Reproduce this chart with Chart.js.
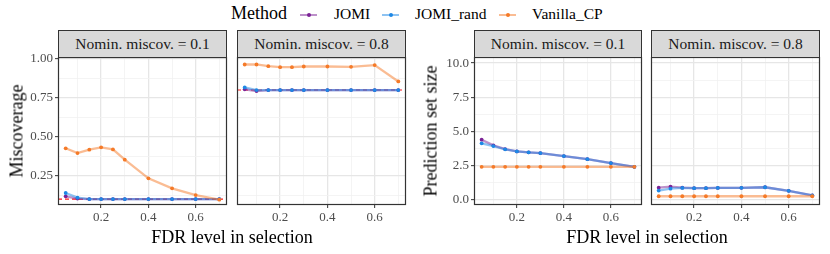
<!DOCTYPE html>
<html><head><meta charset="utf-8">
<script src="https://cdn.jsdelivr.net/npm/chart.js@4/dist/chart.umd.min.js"></script>
<style>
body{margin:0;background:#fff;}
#wrap{position:relative;width:830px;height:254px;overflow:hidden;font-family:"Liberation Serif","DejaVu Serif",serif;background:#fff;}
.strip{position:absolute;top:30px;height:28px;box-sizing:border-box;border:1px solid #333;background:#D9D9D9;color:#1a1a1a;font-size:15.5px;line-height:26px;text-align:center;white-space:nowrap;}
canvas{position:absolute;}
.ytitle{position:absolute;font-size:18px;transform:translate(-50%,-50%) rotate(-90deg);white-space:nowrap;color:#000;}
.xtitle{position:absolute;font-size:18px;transform:translate(-50%,-50%);white-space:nowrap;color:#000;}
.lg{position:absolute;white-space:nowrap;color:#000;}
.key{position:absolute;width:17px;height:14px;}
.kl{position:absolute;left:0;right:0;top:6px;height:2px;}
.kd{position:absolute;left:6.5px;top:5px;width:4px;height:4px;border-radius:50%;}
</style></head>
<body>
<div id="wrap"></div>
<script>
// ---------------- data ----------------
const fdrLevels = [0.05, 0.1, 0.15, 0.2, 0.25, 0.3, 0.4, 0.5, 0.6, 0.7];
const methods = ['JOMI', 'JOMI_rand', 'Vanilla_CP'];
const nominalLevels = [0.1, 0.8];
const stripLabels = ['Nomin. miscov. = 0.1', 'Nomin. miscov. = 0.8'];

// Miscoverage
const miscov01_JOMI      = [0.118, 0.103, 0.100, 0.100, 0.100, 0.100, 0.100, 0.100, 0.100, 0.100];
const miscov01_JOMI_rand = [0.139, 0.109, 0.100, 0.100, 0.100, 0.100, 0.100, 0.100, 0.100, 0.100];
const miscov01_Vanilla   = [0.426, 0.395, 0.417, 0.432, 0.419, 0.353, 0.233, 0.169, 0.126, 0.096];
const miscov08_JOMI      = [0.805, 0.793, 0.800, 0.800, 0.800, 0.800, 0.800, 0.800, 0.800, 0.800];
const miscov08_JOMI_rand = [0.817, 0.800, 0.800, 0.800, 0.800, 0.800, 0.800, 0.800, 0.800, 0.800];
const miscov08_Vanilla   = [0.964, 0.964, 0.953, 0.947, 0.947, 0.951, 0.951, 0.949, 0.960, 0.855];

// Prediction set size
const size01_JOMI      = [4.39, 3.97, 3.70, 3.53, 3.46, 3.41, 3.19, 2.96, 2.67, 2.40];
const size01_JOMI_rand = [4.12, 3.92, 3.68, 3.53, 3.46, 3.41, 3.19, 2.96, 2.67, 2.40];
const size01_Vanilla   = [2.40, 2.40, 2.40, 2.40, 2.40, 2.40, 2.40, 2.40, 2.40, 2.40];
const size08_JOMI      = [0.87, 0.94, 0.87, 0.83, 0.83, 0.85, 0.86, 0.90, 0.64, 0.30];
const size08_JOMI_rand = [0.66, 0.80, 0.85, 0.83, 0.83, 0.85, 0.86, 0.90, 0.64, 0.30];
const size08_Vanilla   = [0.24, 0.24, 0.24, 0.24, 0.24, 0.24, 0.24, 0.24, 0.24, 0.24];

// ticks
const xMajorTicks = [0.2, 0.4, 0.6];
const xMinorTicks = [0.1, 0.3, 0.5, 0.7];
const miscovMajorTicks = [0.25, 0.5, 0.75, 1.0];
const miscovMinorTicks = [0.125, 0.375, 0.625, 0.875];
const sizeMajorTicks = [0, 2.5, 5, 7.5, 10];
const sizeMinorTicks = [1.25, 3.75, 6.25, 8.75];

// ---------------- style ----------------
const FONT = '"Liberation Serif", "DejaVu Serif", serif';
const methodColors = {
  'JOMI':       [123, 35, 150],
  'JOMI_rand':  [30, 136, 229],
  'Vanilla_CP': [245, 122, 40]
};
const rgba = (c, a) => `rgba(${c[0]},${c[1]},${c[2]},${a})`;
const LINE_ALPHA = 0.5;

const wrap = document.getElementById('wrap');

// legend
(function(){
  const t = document.createElement('div');
  t.className = 'lg'; t.textContent = 'Method';
  t.style.left = '231px'; t.style.top = '3px'; t.style.fontSize = '18px';
  wrap.appendChild(t);
  const keyX = [300, 382, 499];
  const labX = [334, 415, 532];
  methods.forEach((m, i) => {
    const k = document.createElement('div');
    k.className = 'key'; k.style.left = keyX[i] + 'px'; k.style.top = '8px';
    const l = document.createElement('div'); l.className = 'kl'; l.style.background = rgba(methodColors[m], LINE_ALPHA);
    const d = document.createElement('div'); d.className = 'kd'; d.style.background = rgba(methodColors[m], 1);
    k.appendChild(l); k.appendChild(d); wrap.appendChild(k);
    const lab = document.createElement('div');
    lab.className = 'lg'; lab.textContent = m;
    lab.style.left = labX[i] + 'px'; lab.style.top = '5px'; lab.style.fontSize = '15.5px';
    wrap.appendChild(lab);
  });
})();

// geometry
const PLOT_TOP = 57, PLOT_H = 148;
const PAD_T = 12, PAD_R = 12, YAX_W = 45, XAX_H = 30;

const panelDecor = {
  id: 'panelDecor',
  beforeDatasetsDraw(chart, args, opts) {
    if (opts.hline == null) return;
    const {ctx, chartArea: a} = chart;
    const py = chart.scales.y.getPixelForValue(opts.hline);
    ctx.save();
    ctx.beginPath(); ctx.rect(a.left, a.top, a.width, a.height); ctx.clip();
    ctx.beginPath();
    ctx.strokeStyle = '#FF1A1A'; ctx.lineWidth = 1.1; ctx.setLineDash([4, 3]);
    ctx.moveTo(a.left, py); ctx.lineTo(a.right, py); ctx.stroke();
    ctx.restore();
  },
  afterDraw(chart) {
    const {ctx, chartArea: a} = chart;
    ctx.save();
    ctx.strokeStyle = '#333'; ctx.lineWidth = 1.2;
    ctx.strokeRect(a.left + 0.5, a.top + 0.5, a.width - 1, a.height - 1);
    ctx.restore();
  }
};

function axisCfg(axis, min, max, major, minor, showLabels, fmt) {
  const all = major.concat(minor).sort((a, b) => a - b);
  const isMajor = v => major.some(m => Math.abs(m - v) < 1e-9);
  return {
    type: 'linear', min, max,
    afterBuildTicks: s => { s.ticks = all.filter(v => v >= min && v <= max).map(v => ({value: v})); },
    afterFit: s => { if (axis === 'x') s.height = XAX_H; else s.width = YAX_W; },
    ticks: {
      display: showLabels, autoSkip: false, maxRotation: 0, minRotation: 0, padding: 2,
      color: '#4D4D4D', font: {family: FONT, size: 13},
      callback: v => isMajor(v) ? fmt(v) : ''
    },
    grid: {
      drawTicks: showLabels, tickLength: 3, tickWidth: 1,
      tickColor: c => (c.tick && isMajor(c.tick.value)) ? '#333' : 'rgba(0,0,0,0)',
      color: c => (c.tick && isMajor(c.tick.value)) ? '#E6E6E6' : '#F1F1F1',
      lineWidth: c => (c.tick && isMajor(c.tick.value)) ? 1.3 : 0.8
    },
    border: {display: false}
  };
}

function makePanel(left, width, strip, series, yCfg, showY, hline) {
  const s = document.createElement('div');
  s.className = 'strip'; s.textContent = strip;
  s.style.left = left + 'px'; s.style.width = width + 'px';
  const cv = document.createElement('canvas');
  const W = YAX_W + width + PAD_R, H = PAD_T + PLOT_H + XAX_H;
  cv.width = W; cv.height = H;
  cv.style.width = W + 'px'; cv.style.height = H + 'px';
  cv.style.left = (left - YAX_W) + 'px'; cv.style.top = (PLOT_TOP - PAD_T) + 'px';
  wrap.appendChild(cv);
  wrap.appendChild(s);
  const datasets = methods.map((m, i) => ({
    label: m,
    data: fdrLevels.map((x, j) => ({x, y: series[i][j]})),
    borderColor: rgba(methodColors[m], LINE_ALPHA),
    borderWidth: 2.3,
    pointRadius: 1.9,
    pointBorderWidth: 0,
    pointBackgroundColor: rgba(methodColors[m], 1),
    tension: 0,
    order: methods.length - i
  }));
  new Chart(cv, {
    type: 'line',
    data: {datasets},
    options: {
      responsive: false, animation: false, devicePixelRatio: 1,
      layout: {padding: {top: PAD_T, right: PAD_R, left: 0, bottom: 0}},
      plugins: {legend: {display: false}, tooltip: {enabled: false}, panelDecor: {hline}},
      scales: {
        x: axisCfg('x', 0.0175, 0.7325, xMajorTicks, xMinorTicks, true, v => v.toFixed(1)),
        y: axisCfg('y', yCfg.min, yCfg.max, yCfg.major, yCfg.minor, showY, yCfg.fmt)
      }
    },
    plugins: [panelDecor]
  });
}

const missY = {min: 0.062, max: 1.012, major: miscovMajorTicks, minor: miscovMinorTicks, fmt: v => v.toFixed(2)};
const sizeY = {min: -0.4, max: 10.45, major: sizeMajorTicks, minor: sizeMinorTicks, fmt: v => v.toFixed(1)};

makePanel(58, 169, stripLabels[0], [miscov01_JOMI, miscov01_JOMI_rand, miscov01_Vanilla], missY, true, nominalLevels[0]);
makePanel(237, 169, stripLabels[1], [miscov08_JOMI, miscov08_JOMI_rand, miscov08_Vanilla], missY, false, nominalLevels[1]);
makePanel(474, 168, stripLabels[0], [size01_JOMI, size01_JOMI_rand, size01_Vanilla], sizeY, true, null);
makePanel(651, 169, stripLabels[1], [size08_JOMI, size08_JOMI_rand, size08_Vanilla], sizeY, false, null);

// axis titles
function addText(cls, txt, x, y) {
  const d = document.createElement('div');
  d.className = cls; d.textContent = txt;
  d.style.left = x + 'px'; d.style.top = y + 'px';
  wrap.appendChild(d);
}
addText('ytitle', 'Miscoverage', 17, 131);
addText('ytitle', 'Prediction set size', 431, 131);
addText('xtitle', 'FDR level in selection', 232, 237);
addText('xtitle', 'FDR level in selection', 647, 237);
</script>
</body></html>
